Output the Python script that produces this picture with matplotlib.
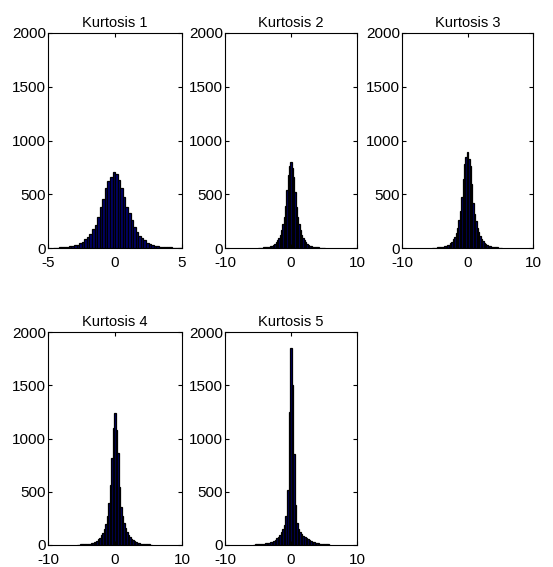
import numpy as np
import matplotlib
matplotlib.use("Agg")
import matplotlib.pyplot as plt

titles = ["Kurtosis 1", "Kurtosis 2", "Kurtosis 3", "Kurtosis 4", "Kurtosis 5"]

# data range (min, max) of each sample; 50 equal bins across it (as MATLAB hist)
range1 = (-4.6, 5.0)
range2 = (-5.0, 5.2)
range3 = (-5.45, 5.25)
range4 = (-5.65, 5.45)
range5 = (-5.75, 5.95)

counts1 = [4, 3, 5, 6, 8, 10, 14, 18, 24, 32, 42, 58, 80, 100, 130, 180, 210, 290, 380, 460,
           560, 620, 660, 705, 690, 630, 560, 470, 380, 330, 260, 200, 150, 115, 90, 70, 50, 36, 26, 20,
           15, 12, 9, 7, 6, 5, 4, 3, 3, 2]
counts2 = [2, 3, 3, 4, 5, 6, 8, 10, 13, 17, 22, 30, 40, 55, 72, 95, 125, 165, 220, 290,
           390, 540, 680, 760, 800, 740, 660, 520, 380, 290, 225, 165, 125, 92, 72, 55, 40, 30, 22, 17,
           13, 10, 8, 6, 5, 4, 3, 3, 2, 2]
counts3 = [2, 3, 3, 4, 5, 6, 7, 9, 11, 14, 18, 24, 32, 44, 60, 80, 105, 140, 190, 260,
           345, 470, 640, 780, 850, 895, 830, 760, 600, 420, 320, 250, 190, 145, 110, 82, 62, 46, 34, 25,
           19, 14, 11, 9, 7, 6, 5, 4, 3, 2]
counts4 = [3, 4, 5, 6, 7, 8, 9, 11, 13, 16, 20, 25, 32, 42, 55, 70, 90, 115, 150, 195,
           270, 390, 560, 820, 1100, 1240, 1080, 860, 540, 360, 270, 205, 160, 125, 98, 78, 60, 46, 35, 27,
           21, 17, 14, 12, 10, 8, 7, 6, 5, 4]
counts5 = [4, 5, 6, 7, 8, 9, 11, 13, 15, 18, 21, 26, 32, 40, 50, 62, 76, 95, 120, 150,
           185, 270, 520, 1250, 1850, 1500, 850, 380, 210, 150, 125, 105, 88, 75, 62, 52, 43, 36, 30, 25,
           21, 18, 15, 13, 11, 9, 8, 6, 5, 4]

xlims = [(-5, 5), (-10, 10), (-10, 10), (-10, 10), (-10, 10)]
xticks = [[-5, 0, 5], [-10, 0, 10], [-10, 0, 10], [-10, 0, 10], [-10, 0, 10]]
yticks = [0, 500, 1000, 1500, 2000]

ranges = [range1, range2, range3, range4, range5]
counts = [counts1, counts2, counts3, counts4, counts5]

plt.rcParams["font.family"] = ["Liberation Sans", "DejaVu Sans"]
plt.rcParams["axes.unicode_minus"] = False

W, H = 553, 567
fig = plt.figure(figsize=(W / 100, H / 100), dpi=100)

# axes boxes in pixels: (left, top, width, height)
boxes = [(48, 33, 134, 215), (225, 33, 132, 215), (402, 33, 131, 215),
         (48, 332, 134, 213), (225, 332, 132, 213)]

for i in range(5):
    l, t, w, h = boxes[i]
    ax = fig.add_axes([l / W, 1 - (t + h) / H, w / W, h / H])
    lo, hi = ranges[i]
    c = np.array(counts[i], dtype=float)
    edges = np.linspace(lo, hi, len(c) + 1)
    ax.bar(edges[:-1], c, width=np.diff(edges), align="edge",
           color="#000070", edgecolor="black", linewidth=0.9)
    ax.set_xlim(*xlims[i])
    ax.set_ylim(0, 2000)
    ax.set_xticks(xticks[i])
    ax.set_yticks(yticks)
    ax.tick_params(direction="in", length=3, width=0.8, top=True, right=True,
                   labelsize=11)
    ax.tick_params(axis="y", pad=1.5)
    ax.tick_params(axis="x", pad=5.5)
    for s in ax.spines.values():
        s.set_linewidth(0.8)
    ax.set_title(titles[i], fontsize=10.5, pad=4)

fig.savefig("out.png", dpi=100)
